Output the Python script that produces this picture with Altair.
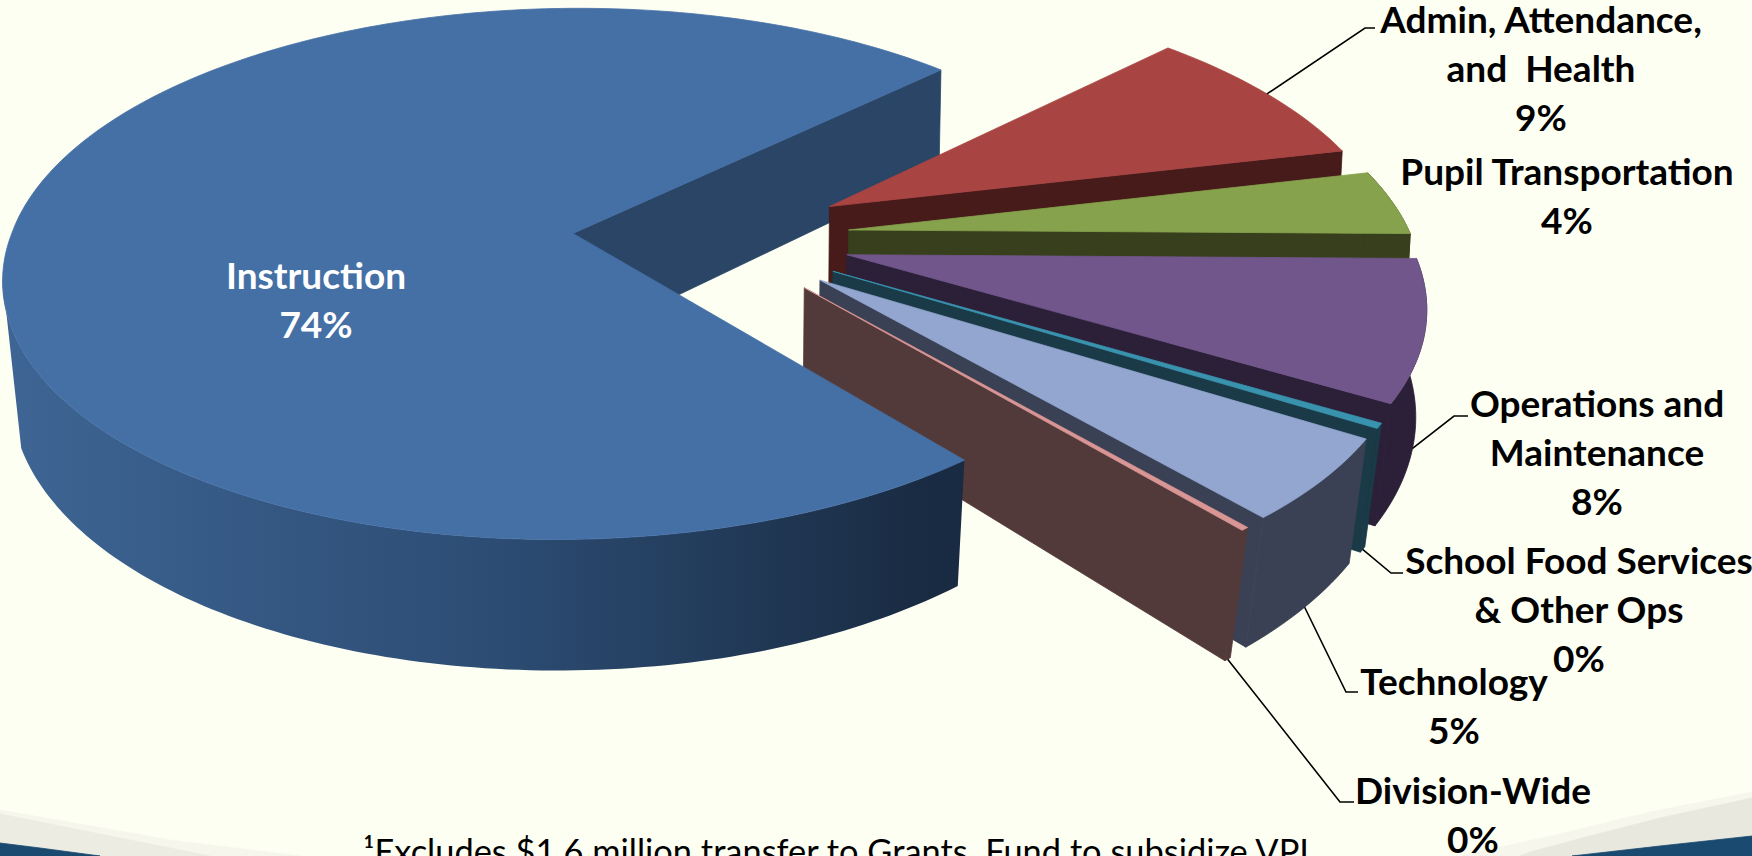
import math
import altair as alt

# Budget shares, in percent, clockwise from the Admin slice
categories = ["Admin, Attendance, and Health", "Pupil Transportation", "Operations and Maintenance",
              "School Food Services & Other Ops", "Technology", "Division-Wide", "Instruction"]
shares = [8.6, 3.9, 8.4, 0.3, 4.9, 0.2, 73.7]
top_colors = ["#A84442", "#87A24D", "#71568C", "#3A93AE", "#93A6CF", "#D99694", "#4570A6"]
wall_colors = ["#461B19", "#373F1C", "#2B2038", "#1A3A48", "#3A4154", "#533A3A", "#2A4565"]
label_lines = [["Admin, Attendance,", "and\u00a0 Health"], ["Pupil Transportation"], ["Operations and", "Maintenance"],
               ["School Food Services", "& Other Ops"], ["Technology"], ["Division-Wide"], ["Instruction"]]
big_wall_ramp = ["#3E6594", "#2C4C73", "#192B42"]

BACKGROUND = "#FEFFF3"
FOOTNOTE = "\u00b9Excludes $1.6 million transfer to Grants\u00a0 Fund to subsidize VPI"

# Pie layout: first slice angle (degrees clockwise from +x), explosion, camera and extrusion
START_ANGLE = -44.2
EXPLODE = 0.247
CENTER_U, CENTER_V = 0.2465, 0.015
ORIGIN_X, ORIGIN_Y = 573.0, 233.0
SCALE_X, SCALE_Y = 561.0, 259.3
SHEAR_FAR, SHEAR_NEAR = -7.0, -15.0
PERSPECTIVE = 0.1525
DEPTH = 111.0
VANISH_X = 728.0
# Where the wall silhouette leaves the upper and the lower rim on the left side
TOP_RIM_LIMIT, BOTTOM_RIM_LIMIT = 171.0, 160.0


def project(u, v, bottom=False):
    s = 1.0 / (1.0 - PERSPECTIVE * v)
    shear = SHEAR_NEAR if v > 0 else SHEAR_FAR
    x = ORIGIN_X + (SCALE_X * u + shear * v) * s
    y = ORIGIN_Y + SCALE_Y * v * s
    if bottom:
        # The lower rim narrows toward a vanishing line, more strongly near the viewer
        pull = 0.012 if x < VANISH_X else 0.009 + 0.025 * max(v, 0.0)
        x -= (x - VANISH_X) * pull
        y += DEPTH * s
    return [round(x, 2), round(y, 2)]


def polygon(points, fill, stroke=None):
    return {"type": "Feature",
            "properties": {"fill": fill, "stroke": stroke or fill},
            "geometry": {"type": "Polygon", "coordinates": [points + [points[0]]]}}


# Angular extent of every slice, derived from its share
total = sum(shares)
slices = []
angle = START_ANGLE
for share in shares:
    sweep = share / total * 360.0
    slices.append((angle, angle + sweep))
    angle += sweep


def apex_of(i):
    a0, a1 = slices[i]
    mid = math.radians((a0 + a1) / 2)
    return CENTER_U + EXPLODE * math.cos(mid), CENTER_V + EXPLODE * math.sin(mid)


def rim_point(i, a):
    au, av = apex_of(i)
    return au + math.cos(math.radians(a)), av + math.sin(math.radians(a))


def rim_angles(i, step=1.0):
    a0, a1 = slices[i]
    n = max(2, int((a1 - a0) / step) + 1)
    return [a0 + (a1 - a0) * k / n for k in range(n + 1)]


def radial_wall(i, a):
    apex = apex_of(i)
    tip = rim_point(i, a)
    return polygon([project(*apex), project(*tip), project(*tip, True), project(*apex, True)], wall_colors[i])


def outer_wall(i, fill):
    # Only the stretch of rim that faces the viewer carries a wall
    upper = [project(*rim_point(i, a)) for a in rim_angles(i) if a <= TOP_RIM_LIMIT]
    lower = [project(*rim_point(i, a), True) for a in rim_angles(i) if a <= BOTTOM_RIM_LIMIT]
    return polygon(upper + lower[::-1], fill)


def top_face(i):
    return polygon([project(*apex_of(i))] + [project(*rim_point(i, a)) for a in rim_angles(i)], top_colors[i])


# Painter's order: the big slice's back wall, the small slices from back to front,
# and finally the big slice itself
big = len(shares) - 1
back_features = [radial_wall(big, slices[big][1])]
for i in range(big):
    back_features.append(radial_wall(i, slices[i][1]))
    if math.sin(math.radians(slices[i][1])) > -0.12:
        back_features.append(outer_wall(i, wall_colors[i]))
    back_features.append(top_face(i))

big_wall = [outer_wall(big, wall_colors[big])]
big_top = [top_face(big)]


def rim_anchor(i, bottom):
    a0, a1 = slices[i]
    return project(*rim_point(i, (a0 + a1) / 2), bottom)


# Elbow and text placement of the outside labels
leader_elbows = {
    0: [[1365, 28], [1375, 28]],
    2: [[1454, 416], [1468, 416]],
    3: [[1391, 573], [1403, 573]],
    4: [[1346, 692], [1358, 692]],
    5: [[1340, 802], [1354, 802]],
}
leader_on_wall = {0: False, 2: True, 3: True, 4: True, 5: True}

leaders = []
for i, elbow in leader_elbows.items():
    path = [rim_anchor(i, leader_on_wall[i])] + elbow
    leaders.append({"type": "Feature", "properties": {}, "geometry": {"type": "LineString", "coordinates": path}})

label_place = {0: (1541, 22), 1: (1567, 174), 2: (1597, 406), 3: (1579, 563), 4: (1454, 684), 5: (1473, 793), 6: (316, 278)}
LINE_GAP = 49

rows = []
for i, lines in enumerate(label_lines):
    x, y = label_place[i]
    for j, text in enumerate(lines + [f"{round(shares[i])}%"]):
        rows.append({"text": text, "px": x, "py": y + j * LINE_GAP, "ink": "#FFFFFF" if i == big else "#000000"})

# Slide frame at the lower corners
frame = [
    polygon([[0, 810], [80, 824], [170, 840], [300, 856], [0, 856]], "#F6F6EC"),
    polygon([[0, 814], [70, 828], [140, 842], [210, 856], [0, 856]], "#ECECE2"),
    polygon([[1752, 792], [1650, 812], [1560, 834], [1460, 856], [1752, 856]], "#F6F6EC"),
    polygon([[1752, 798], [1660, 818], [1590, 836], [1530, 852], [1520, 856], [1752, 856]], "#E8E8DE"),
    polygon([[0, 843], [40, 848], [100, 856], [0, 856]], "#1B4A70"),
    polygon([[1752, 836], [1660, 846], [1572, 856], [1752, 856]], "#1B4A70"),
]

W, H = 1752, 856
IDENTITY = dict(type="identity", scale=1, translate=[0, 0])


def shapes(values):
    return alt.Chart(alt.Data(values=values)).mark_geoshape(strokeWidth=0.8).encode(
        fill=alt.Fill("properties.fill:N", scale=None),
        stroke=alt.Stroke("properties.stroke:N", scale=None),
    ).project(**IDENTITY)


# Outer wall of the big slice, shaded left to right
ramp = alt.Gradient(
    gradient="linear", x1=0, x2=1, y1=0, y2=0,
    stops=[alt.GradientStop(color=big_wall_ramp[0], offset=0),
           alt.GradientStop(color=big_wall_ramp[1], offset=0.52),
           alt.GradientStop(color=big_wall_ramp[2], offset=0.96)],
)
wall_layer = alt.Chart(alt.Data(values=big_wall)).mark_geoshape(fill=ramp, strokeWidth=0).project(**IDENTITY)

lines_layer = alt.Chart(alt.Data(values=leaders)).mark_geoshape(
    filled=False, stroke="#000000", strokeWidth=1.6).project(**IDENTITY)

labels = alt.Chart(alt.Data(values=rows)).mark_text(
    font="Lato", fontWeight="bold", fontSize=37, align="center", baseline="middle"
).encode(
    x=alt.X("px:Q", scale=alt.Scale(domain=[0, W], range=[0, W]), axis=None),
    y=alt.Y("py:Q", scale=alt.Scale(domain=[0, H], range=[0, H]), axis=None),
    text="text:N",
    color=alt.Color("ink:N", scale=None),
)

note = alt.Chart(alt.Data(values=[{"text": FOOTNOTE}])).mark_text(
    font="Lato", fontSize=34.4, align="left", baseline="alphabetic", color="#000000"
).encode(x=alt.value(363), y=alt.value(864), text="text:N")

chart = alt.layer(shapes(frame), shapes(back_features), wall_layer, shapes(big_top), lines_layer, labels, note).properties(
    width=W, height=H, padding=0, autosize=alt.AutoSizeParams(type="none"), background=BACKGROUND
).configure_view(stroke=None)

chart.save("out.html", embed_options={"renderer": "svg", "actions": False})
